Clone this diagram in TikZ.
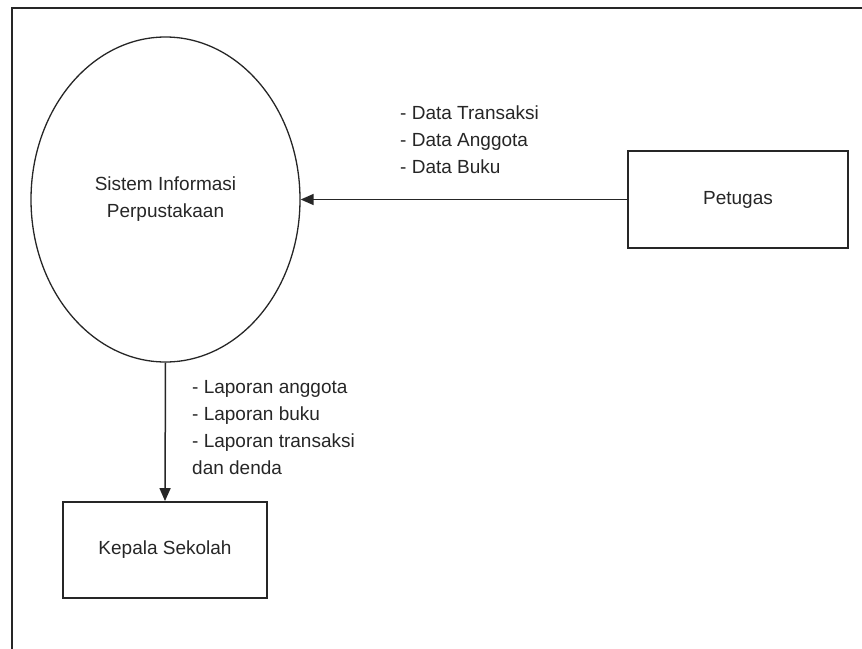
\documentclass[tikz,border=0pt]{standalone}
\usepackage{fontspec}
\setmainfont{Liberation Sans}
\usetikzlibrary{shapes.geometric,arrows.meta}
\begin{document}
\begin{tikzpicture}[x=1pt,y=-1pt,
  every node/.style={font=\fontsize{19}{27}\selectfont, text=black!85},
  procbox/.style={draw=black!85, line width=1.3pt, ellipse, minimum width=269pt, minimum height=325pt, inner sep=0pt, align=center},
  entbox/.style={draw=black!85, line width=1.8pt, rectangle, inner sep=0pt},
  label/.style={align=left, anchor=north west, inner sep=0pt},
  flow/.style={draw=black!85, line width=1.5pt, -{Triangle[length=13pt,width=11pt]}}
]
\useasboundingbox (0,0) rectangle (862,648);
% outer frame (left and top edges)
\draw[black!85, line width=2pt] (12,650) -- (12,8) -- (864,8);
\node[procbox] (sip) at (165.5,199.5) {Sistem Informasi\\Perpustakaan};
\node[entbox, minimum width=220pt, minimum height=97pt] (pet) at (738,199.5) {Petugas};
\node[entbox, minimum width=204pt, minimum height=96pt] (kep) at (165,550) {Kepala Sekolah};
\draw[flow] (pet.west) -- (sip.east);
\draw[flow] (sip.south) -- (kep.north);
\node[label] (ldata) at (400,106) {- Data Transaksi\\- Data Anggota\\- Data Buku};
\node[label] (llap) at (192,380) {- Laporan anggota\\- Laporan buku\\- Laporan transaksi\\dan denda};
\end{tikzpicture}
\end{document}
